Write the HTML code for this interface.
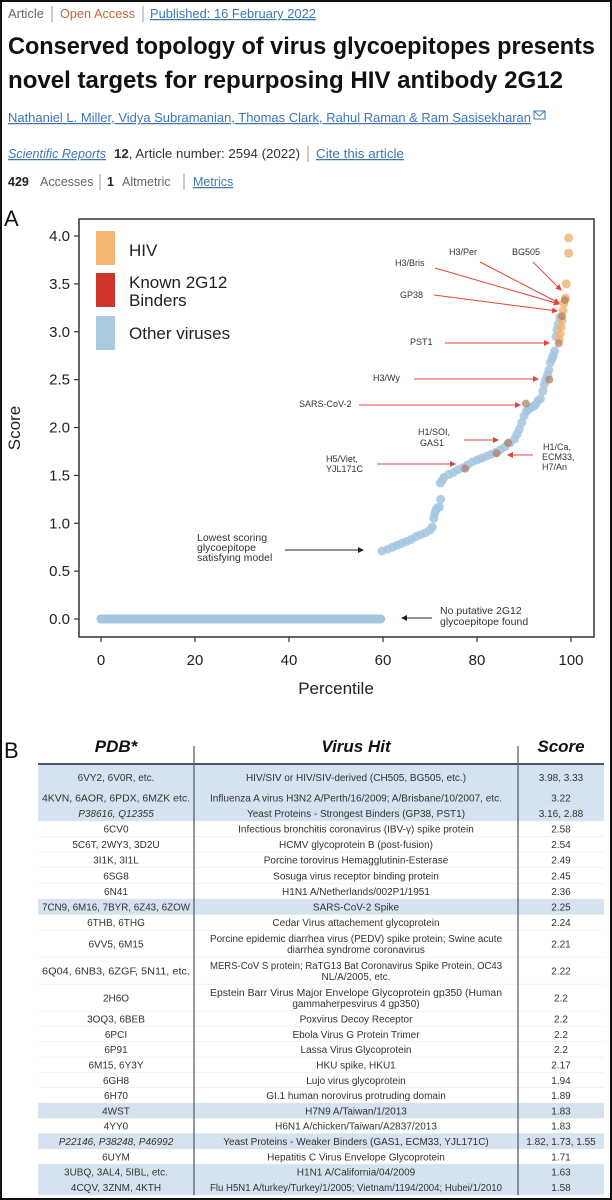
<!DOCTYPE html>
<html><head><meta charset="utf-8"><style>
html,body{margin:0;padding:0;background:#fff;}
svg{display:block;font-family:"Liberation Sans",sans-serif;}
</style></head><body>
<svg id="s" width="612" height="1200" viewBox="0 0 612 1200" xmlns="http://www.w3.org/2000/svg">
<rect x="1" y="1" width="610" height="1198" fill="#fff" stroke="#111" stroke-width="2"/>
<g font-size="12.5">
<text x="8" y="18" fill="#666" textLength="36" lengthAdjust="spacingAndGlyphs">Article</text>
<line x1="52" y1="6" x2="52" y2="22" stroke="#999"/>
<text x="60" y="18" fill="#c8643c" textLength="75" lengthAdjust="spacingAndGlyphs">Open Access</text>
<line x1="143" y1="6" x2="143" y2="22" stroke="#999"/>
<text x="150" y="18" fill="#3a78b5" text-decoration="underline" textLength="166" lengthAdjust="spacingAndGlyphs">Published: 16 February 2022</text>
</g>
<text x="8" y="54" font-size="24" font-weight="bold" fill="#111" textLength="587" lengthAdjust="spacingAndGlyphs">Conserved topology of virus glycoepitopes presents</text>
<text x="8" y="88" font-size="24" font-weight="bold" fill="#111" textLength="555" lengthAdjust="spacingAndGlyphs">novel targets for repurposing HIV antibody 2G12</text>
<g font-size="12.5" fill="#3a78b5" text-decoration="underline">
<text x="8" y="122" textLength="523" lengthAdjust="spacingAndGlyphs">Nathaniel L. Miller, Vidya Subramanian, Thomas Clark, Rahul Raman &amp; Ram Sasisekharan</text>
</g>
<g><rect x="534" y="111" width="11" height="8" fill="none" stroke="#3a78b5"/><polyline points="534,111 539.5,116 545,111" fill="none" stroke="#3a78b5"/></g>
<text x="8" y="158" font-size="12.5" fill="#3a78b5" font-style="italic" text-decoration="underline" textLength="98" lengthAdjust="spacingAndGlyphs">Scientific Reports</text>
<text x="114" y="158" font-size="12.5" fill="#333" textLength="186" lengthAdjust="spacingAndGlyphs"><tspan font-weight="bold">12</tspan>, Article number: 2594 (2022)</text>
<line x1="308" y1="146" x2="308" y2="162" stroke="#999"/>
<text x="316" y="158" font-size="12.5" fill="#3a78b5" text-decoration="underline" textLength="88" lengthAdjust="spacingAndGlyphs">Cite this article</text>
<text x="8" y="186" font-size="12.5" fill="#222" font-weight="bold">429</text>
<text x="40" y="186" font-size="12.5" fill="#666">Accesses</text>
<line x1="100" y1="174" x2="100" y2="190" stroke="#999"/>
<text x="107" y="186" font-size="12.5" fill="#222" font-weight="bold">1</text>
<text x="122" y="186" font-size="12.5" fill="#666">Altmetric</text>
<line x1="184" y1="174" x2="184" y2="190" stroke="#999"/>
<text x="193" y="186" font-size="12.5" fill="#3a78b5" text-decoration="underline">Metrics</text>

<text x="4" y="226" font-size="22" fill="#111">A</text>
<g id="chart"></g>
<text x="4" y="758" font-size="22" fill="#111">B</text>
<g id="table"></g>
</svg>
<script>
const zeroPct = [0,2,4,6,8,10,12,14,16,18,20,22,24,26,28,30,32,34,36,38,40,42,44,46,48,50,52,54,56,58,59.5];
const otherPct = [59.8,61,62,63,64,65,66,67,68,69,70,70.5,70.8,71,71.3,71.6,72,72.3,72.2,72.6,73,74,75,76,77,78,79,80,81,82,83,84,85,86,87,88,88.5,89,89.5,90,90.5,91,91.5,92,92.5,93,93.5,94,94.3,94.6,95,95.3,95.6,96,96.2,96.5,96.8,97,97.3,97.6];
const otherScore = [0.71,0.73,0.75,0.77,0.79,0.81,0.83,0.86,0.88,0.9,0.93,0.96,1.05,1.1,1.14,1.16,1.17,1.25,1.42,1.45,1.48,1.51,1.53,1.56,1.58,1.61,1.64,1.66,1.68,1.7,1.72,1.74,1.77,1.8,1.84,1.88,1.93,1.98,2.05,2.12,2.17,2.19,2.21,2.22,2.24,2.28,2.3,2.38,2.45,2.5,2.55,2.6,2.68,2.72,2.75,2.8,2.95,3.02,3.08,3.15];
const hivPct = [99.5,99.5,99,98.8,98.5,98.3,98.1,97.9,97.7,97.5];
const hivScore = [3.98,3.82,3.5,3.35,3.3,3.22,3.12,3.05,2.98,2.92];
const binderPct = [97.4,98.1,98.7,95.4,90.4,86.6,84.2,77.5];
const binderScore = [2.88,3.16,3.33,2.5,2.25,1.84,1.73,1.57];
const xTicks = [0,20,40,60,80,100];
const yTicks = [0.0,0.5,1.0,1.5,2.0,2.5,3.0,3.5,4.0];

const NS="http://www.w3.org/2000/svg";
function mk(tag,attrs,parent,txt){const e=document.createElementNS(NS,tag);for(const k in attrs)e.setAttribute(k,attrs[k]);if(txt!==undefined)e.textContent=txt;parent.appendChild(e);return e;}
const X=p=>101+p*4.7;
const Y=s=>619-s*95.75;
const ch=document.getElementById('chart');

const frame=mk('rect',{x:79,y:219,width:515,height:418,fill:'none',stroke:'#333','stroke-width':1.5},ch);



xTicks.forEach(t=>{
  const l=mk('line',{x1:X(t),x2:X(t),y1:637,y2:642,stroke:'#333','stroke-width':1.2},ch);
  
  
  const tx=mk('text',{x:X(t),y:665,'font-size':15,'text-anchor':'middle',fill:'#222'},ch,String(t));
  
  
});
yTicks.forEach(t=>{
  const l=mk('line',{x1:74,x2:79,y1:Y(t),y2:Y(t),stroke:'#333','stroke-width':1.2},ch);
  
  
  const tx=mk('text',{x:70,y:Y(t)+5,'font-size':15,'text-anchor':'end',fill:'#222'},ch,t.toFixed(1));
  
  
});
const xt=mk('text',{x:336,y:694,'font-size':17,'text-anchor':'middle',fill:'#222'},ch,'Percentile');


const yt=mk('text',{x:20,y:428,'font-size':17,'text-anchor':'middle',fill:'#222',transform:'rotate(-90 20 428)'},ch,'Score');



zeroPct.forEach(p=>{
  const c=mk('circle',{cx:X(p),cy:Y(0),r:4.5,fill:'#a3c6e0'},ch);
  
  
});
const zl=mk('line',{x1:X(0),x2:X(59.5),y1:Y(0),y2:Y(0),stroke:'#a3c6e0','stroke-width':9,'stroke-linecap':'round'},ch);


otherPct.forEach((p,i)=>{
  const c=mk('circle',{cx:X(p),cy:Y(otherScore[i]),r:4.5,fill:'#a3c6e0','fill-opacity':0.85},ch);
  
  
});
hivPct.forEach((p,i)=>{
  const c=mk('circle',{cx:X(p),cy:Y(hivScore[i]),r:4.5,fill:'#f2b26e','fill-opacity':0.8},ch);
  
  
});
binderPct.forEach((p,i)=>{
  const c=mk('circle',{cx:X(p),cy:Y(binderScore[i]),r:4,fill:'#b07a60','fill-opacity':0.7},ch);
  
  
});

[['#f4b672','HIV',231,[['HIV',256]]],['#d0352b','binders',273,[['Known 2G12',288],['Binders',306]]],['#a9cae3','other',316,[['Other viruses',339]]]].forEach(d=>{
  const r=mk('rect',{x:96,y:d[2],width:19,height:34,fill:d[0]},ch);
  
  
  d[3].forEach(t=>{
    const tx=mk('text',{x:129,y:t[1],'font-size':17,fill:'#222'},ch,t[0]);
    
    
  });
});

const defs=mk('defs',{},document.getElementById('s'));
const mkMarker=(id,col)=>{const m=mk('marker',{id:id,markerWidth:6,markerHeight:6,refX:5,refY:3,orient:'auto'},defs);mk('path',{d:'M0,0 L6,3 L0,6 z',fill:col},m);};
mkMarker('ar','#e0453a');mkMarker('ak','#222');
const labels=[
 ['H3/Per',449,255],['BG505',512,255],['H3/Bris',395,266],['GP38',400,298],['PST1',410,345],['H3/Wy',373,381],['SARS-CoV-2',299,407],
 ['H1/SOI,',418,435],['GAS1',420,446],['H1/Ca,',543,450],['ECM33,',542,460],['H7/An',542,470],['H5/Viet,',326,462],['YJL171C',326,472],
 ['Lowest scoring',197,541],['glycoepitope',197,551],['satisfying model',197,561],['No putative 2G12',440,614],['glycoepitope found',440,625]];
labels.forEach(l=>{
  const t=mk('text',{x:l[1],y:l[2],'font-size':l[0].match(/Lowest|glycoepitope|satisfying|No putative/)?10.5:9,fill:'#333'},ch,l[0]);
  
  
});
const arrows=[[480,262,559,303,'ar'],[533,262,561,290,'ar'],[435,268,559,304,'ar'],[434,295,557,311,'ar'],[445,343,549,343,'ar'],[414,379,538,379,'ar'],[359,405,520,405,'ar'],[464,440,498,440,'ar'],[533,455,508,455,'ar'],[377,464,455,464,'ar'],[285,550,363,550,'ak'],[432,618,402,618,'ak']];
arrows.forEach(a=>{
  const l=mk('line',{x1:a[0],y1:a[1],x2:a[2],y2:a[3],stroke:a[4]==='ar'?'#e0453a':'#222','stroke-width':1,'marker-end':'url(#'+a[4]+')'},ch);
  
  
});

const rows=[
 ['6VY2, 6V0R, etc.',['HIV/SIV or HIV/SIV-derived (CH505, BG505, etc.)'],'3.98, 3.33',1,25,0],
 ['4KVN, 6AOR, 6PDX, 6MZK etc.',['Influenza A virus H3N2 A/Perth/16/2009; A/Brisbane/10/2007, etc.'],'3.22',1,15.6,0],
 ['P38616, Q12355',['Yeast Proteins - Strongest Binders (GP38, PST1)'],'3.16, 2.88',1,15.6,1],
 ['6CV0',['Infectious bronchitis coronavirus (IBV-γ) spike protein'],'2.58',0,15.6,0],
 ['5C6T, 2WY3, 3D2U',['HCMV glycoprotein B (post-fusion)'],'2.54',0,15.6,0],
 ['3I1K, 3I1L',['Porcine torovirus Hemagglutinin-Esterase'],'2.49',0,15.6,0],
 ['6SG8',['Sosuga virus receptor binding protein'],'2.45',0,15.6,0],
 ['6N41',['H1N1 A/Netherlands/002P1/1951'],'2.36',0,15.6,0],
 ['7CN9, 6M16, 7BYR, 6Z43, 6ZOW',['SARS-CoV-2 Spike'],'2.25',1,15.6,0],
 ['6THB, 6THG',['Cedar Virus attachement glycoprotein'],'2.24',0,15.6,0],
 ['6VV5, 6M15',['Porcine epidemic diarrhea virus (PEDV) spike protein; Swine acute','diarrhea syndrome coronavirus'],'2.21',0,27,0],
 ['6Q04, 6NB3, 6ZGF, 5N11, etc.',['MERS-CoV S protein; RaTG13 Bat Coronavirus Spike Protein, OC43','NL/A/2005, etc.'],'2.22',0,27,0],
 ['2H6O',['Epstein Barr Virus Major Envelope Glycoprotein gp350 (Human','gammaherpesvirus 4 gp350)'],'2.2',0,27,0],
 ['3OQ3, 6BEB',['Poxvirus Decoy Receptor'],'2.2',0,15.3,0],
 ['6PCI',['Ebola Virus G Protein Trimer'],'2.2',0,15.3,0],
 ['6P91',['Lassa Virus Glycoprotein'],'2.2',0,15.3,0],
 ['6M15, 6Y3Y',['HKU spike, HKU1'],'2.17',0,15.3,0],
 ['6GH8',['Lujo virus glycoprotein'],'1.94',0,15.3,0],
 ['6H70',['GI.1 human norovirus protruding domain'],'1.89',0,15.3,0],
 ['4WST',['H7N9 A/Taiwan/1/2013'],'1.83',1,15.3,0],
 ['4YY0',['H6N1 A/chicken/Taiwan/A2837/2013'],'1.83',0,15.3,0],
 ['P22146, P38248, P46992',['Yeast Proteins - Weaker Binders (GAS1, ECM33, YJL171C)'],'1.82, 1.73, 1.55',1,15.3,1],
 ['6UYM',['Hepatitis C Virus Envelope Glycoprotein'],'1.71',0,15.3,0],
 ['3UBQ, 3AL4, 5IBL, etc.',['H1N1 A/California/04/2009'],'1.63',1,15.3,0],
 ['4CQV, 3ZNM, 4KTH',['Flu H5N1 A/turkey/Turkey/1/2005; Vietnam/1194/2004; Hubei/1/2010'],'1.58',1,15.3,0]];
const tb=document.getElementById('table');
[['PDB*',116],['Virus Hit',356],['Score',561]].forEach(h=>{
  const t=mk('text',{x:h[1],y:752,'font-size':17,'font-weight':'bold','font-style':'italic','text-anchor':'middle',fill:'#111'},tb,h[0]);
  
  
});
let y=765;
rows.forEach(r=>{
  const h=r[4];
  const g=mk('g',{},tb);
  
  
  mk('rect',{x:38,y:y,width:566,height:h,fill:r[3]?'#d5e3f1':'#fff'},g);
  mk('line',{x1:38,x2:604,y1:y+h,y2:y+h,stroke:'#e4e8ee','stroke-width':1},g);
  const cy=y+h/2+3.5;
  const p=mk('text',{x:116,y:cy,'font-size':10,'text-anchor':'middle',fill:'#333','font-style':r[5]?'italic':'normal'},g,r[0]);
  if(r[0].length>24){p.setAttribute('textLength',148);p.setAttribute('lengthAdjust','spacingAndGlyphs');}
  if(r[1].length===1){
    const t=mk('text',{x:356,y:cy,'font-size':10,'text-anchor':'middle',fill:'#333'},g,r[1][0]);
    if(r[1][0].length>58){t.setAttribute('textLength',292);t.setAttribute('lengthAdjust','spacingAndGlyphs');}
  } else {
    const a=mk('text',{x:356,y:cy-5.5,'font-size':10,'text-anchor':'middle',fill:'#333'},g,r[1][0]);
    if(r[1][0].length>58){a.setAttribute('textLength',292);a.setAttribute('lengthAdjust','spacingAndGlyphs');}
    mk('text',{x:356,y:cy+5.5,'font-size':10,'text-anchor':'middle',fill:'#333'},g,r[1][1]);
  }
  mk('text',{x:561,y:cy,'font-size':10,'text-anchor':'middle',fill:'#333'},g,r[2]);
  y+=h;
});
const hl=mk('line',{x1:38,x2:604,y1:764,y2:764,stroke:'#4a5866','stroke-width':2},tb);


[194,518].forEach(x=>{
  const l=mk('line',{x1:x,x2:x,y1:746,y2:y,stroke:'#4a5866','stroke-width':1.2},tb);
  
  
});
</script>
</body></html>
